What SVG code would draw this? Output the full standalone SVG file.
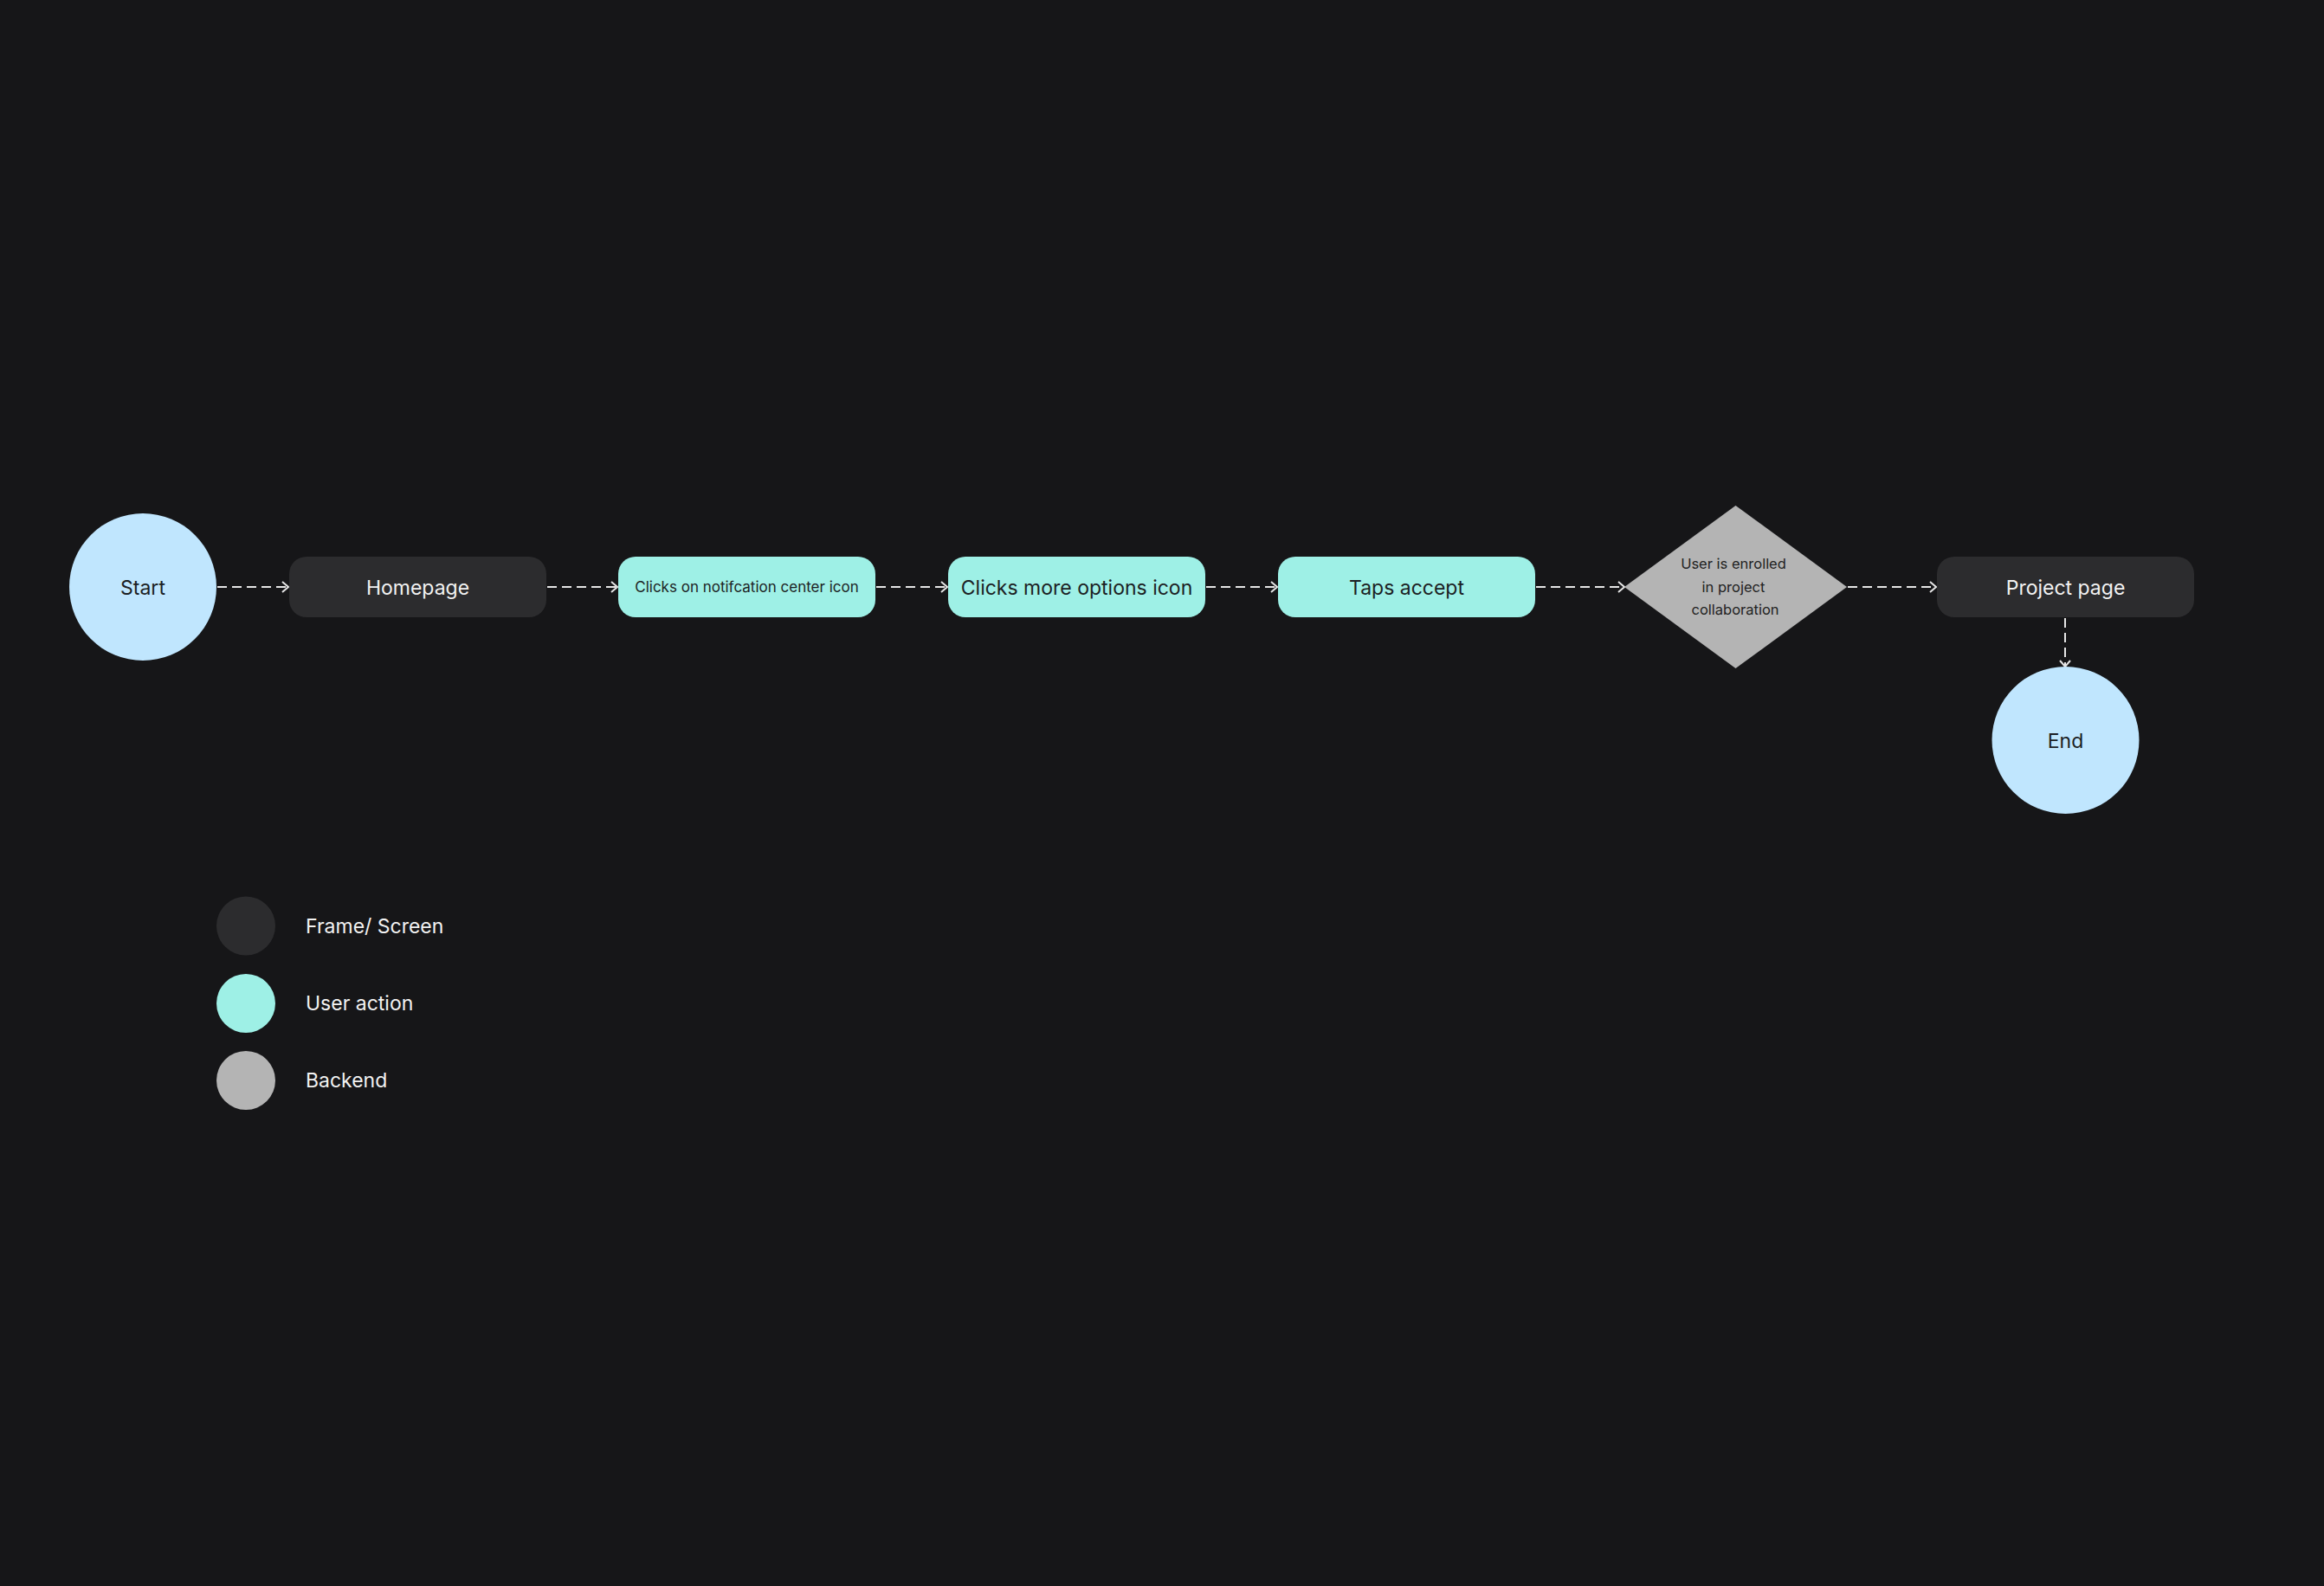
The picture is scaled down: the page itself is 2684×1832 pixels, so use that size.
<svg xmlns="http://www.w3.org/2000/svg" width="2684" height="1832" viewBox="0 0 2684 1832">
<style>
text{font-family:Inter,"Noto Sans","Liberation Sans",sans-serif;text-anchor:middle}
.frame{fill:#2c2c2e}
.action{fill:#9ef0e6}
.term{fill:#c0e6fe}
.backend{fill:#b4b4b4}
.lt{fill:#f2f2f2;font-size:23px}
.dk{fill:#1c1f24;font-size:23px}
.sm{fill:#1c1f24;font-size:17px}
.dm{fill:#222222;font-size:16.5px}
.lg{fill:#f2f2f2;font-size:23px;text-anchor:start}
.conn{stroke:#e6e6e6;stroke-width:2;stroke-dasharray:11 6;fill:none}
</style>
<defs>
<marker id="arr" markerWidth="10" markerHeight="14" refX="9" refY="7" orient="auto" markerUnits="userSpaceOnUse">
<path d="M2,1 L9,7 L2,13" fill="none" stroke="#e6e6e6" stroke-width="2"/>
</marker>
</defs>
<rect width="2684" height="1832" fill="#161618"/>
<g id="connectors">
<line class="conn" x1="251" y1="678" x2="333" y2="678" marker-end="url(#arr)"/>
<line class="conn" x1="632" y1="678" x2="713" y2="678" marker-end="url(#arr)"/>
<line class="conn" x1="1012" y1="678" x2="1094" y2="678" marker-end="url(#arr)"/>
<line class="conn" x1="1393" y1="678" x2="1475" y2="678" marker-end="url(#arr)"/>
<line class="conn" x1="1774" y1="678" x2="1876" y2="678" marker-end="url(#arr)"/>
<line class="conn" x1="2134" y1="678" x2="2236" y2="678" marker-end="url(#arr)"/>
<line class="conn" x1="2385" y1="714" x2="2385" y2="770" marker-end="url(#arr)"/>
</g>
<g id="start">
<circle class="term" cx="165" cy="678" r="85"/>
<text class="dk" x="165" y="686.5">Start</text>
</g>
<g id="homepage">
<rect class="frame" x="334" y="643" width="297" height="70" rx="20"/>
<text class="lt" x="482.5" y="686.5">Homepage</text>
</g>
<g id="notification">
<rect class="action" x="714" y="643" width="297" height="70" rx="20"/>
<text class="sm" x="862.5" y="684">Clicks on notifcation center icon</text>
</g>
<g id="more-options">
<rect class="action" x="1095" y="643" width="297" height="70" rx="20"/>
<text class="dk" x="1243.5" y="686.5">Clicks more options icon</text>
</g>
<g id="taps-accept">
<rect class="action" x="1476" y="643" width="297" height="70" rx="20"/>
<text class="dk" x="1624.5" y="686.5">Taps accept</text>
</g>
<g id="decision">
<polygon class="backend" points="2004.5,584 2133,678 2004.5,772 1876,678"/>
<text class="dm" x="2002" y="657">User is enrolled</text>
<text class="dm" x="2002" y="684">in project</text>
<text class="dm" x="2004" y="710">collaboration</text>
</g>
<g id="project-page">
<rect class="frame" x="2237" y="643" width="297" height="70" rx="20"/>
<text class="lt" x="2385.5" y="686.5">Project page</text>
</g>
<g id="end">
<circle class="term" cx="2385.5" cy="855" r="85"/>
<text class="dk" x="2385.5" y="863.5">End</text>
</g>
<g id="legend">
<circle class="frame" cx="284" cy="1069.5" r="34"/>
<text class="lg" x="353" y="1078">Frame/ Screen</text>
<circle class="action" cx="284" cy="1159" r="34"/>
<text class="lg" x="353" y="1167">User action</text>
<circle class="backend" cx="284" cy="1248" r="34"/>
<text class="lg" x="353" y="1256">Backend</text>
</g>
</svg>
